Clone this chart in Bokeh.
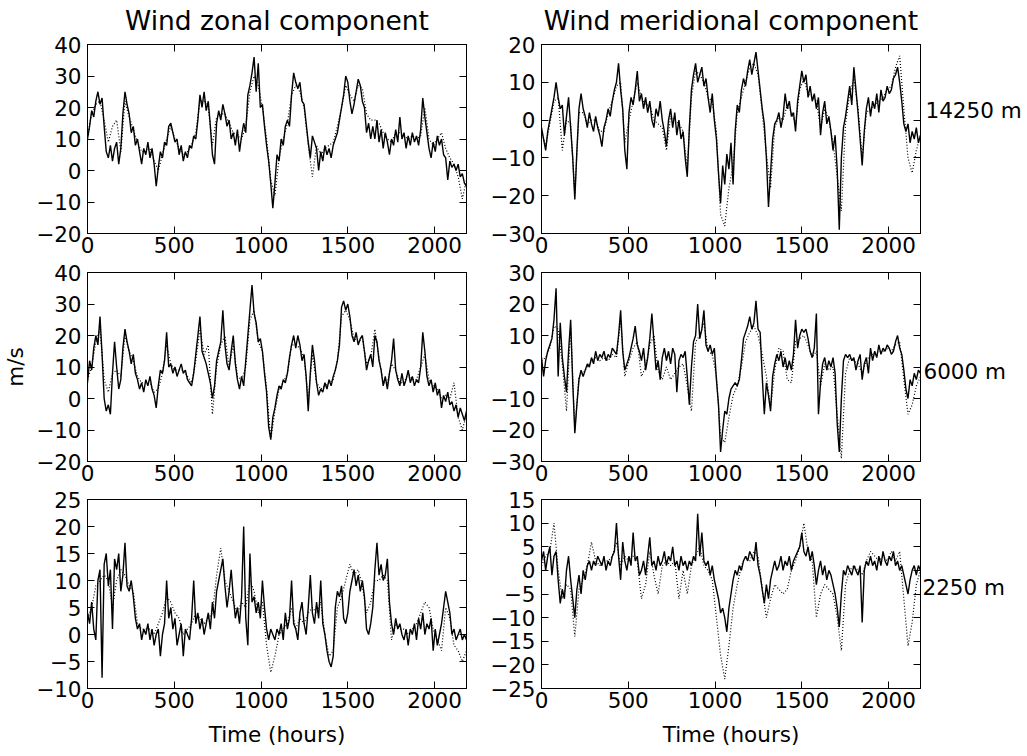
from bokeh.plotting import figure
from bokeh.layouts import column, row
from bokeh.models import Range1d, FixedTicker, LinearAxis
from bokeh.core.properties import value
from bokeh.embed import file_html
from bokeh.resources import INLINE

# ---------------- data ----------------
T_END = 2184
hours_solid = list(range(0, T_END + 1, 12))   # 12-hourly readings of the solid trace
hours_dotted = list(range(0, T_END + 1, 24))  # daily readings of the dotted trace

x_ticks = [0, 500, 1000, 1500, 2000]

col_titles = ["Wind zonal component", "Wind meridional component"]
level_labels = ["14250 m", "6000 m", "2250 m"]

# zonal component, 14250 m
zonal_14250_solid = [
    10, 14, 19, 17, 22, 25, 21, 23, 14, 6,
    4, 8, 3, 7, 9, 2, 7, 18, 25, 21,
    18, 12, 14, 8, 10, 6, 2, 7, 5, 9,
    4, 7, 2, -5, 1, 6, 4, 9, 8, 14,
    15, 12, 9, 10, 5, 8, 3, 6, 4, 8,
    7, 11, 10, 16, 24, 20, 25, 19, 22, 14,
    5, 2, 15, 19, 16, 21, 18, 14, 16, 10,
    12, 8, 13, 6, 11, 15, 12, 24, 27, 31,
    36, 25, 34, 20, 21, 14, 8, 3, -4, -12,
    -4, 5, 3, 10, 8, 14, 16, 14, 24, 31,
    28, 26, 28, 22, 21, 15, 9, 4, 11, 9,
    7, 0, 6, 3, 8, 5, 7, 4, 8, 10,
    12, 16, 20, 24, 30, 28, 22, 18, 21, 25,
    29, 27, 22, 20, 12, 15, 10, 14, 10, 16,
    9, 13, 7, 12, 9, 5, 10, 8, 13, 9,
    17, 10, 12, 7, 11, 8, 12, 9, 11, 8,
    13, 23, 17, 12, 7, 4, 9, 6, 11, 8,
    10, 5, 4, -3, 3, 1, 2, 0, 2, -2,
    -1, -4, -5]
zonal_14250_dotted = [
    11, 18, 21, 22, 16, 9, 14, 16, 6, 22,
    17, 13, 9, 6, 6, 7, 3, 0, 5, 10,
    14, 10, 7, 5, 6, 8, 12, 22, 22, 20,
    8, 17, 18, 18, 15, 12, 11, 10, 14, 25,
    30, 27, 20, 10, -3, -8, 4, 10, 15, 24,
    27, 25, 20, 8, -2, 8, 5, 7, 8, 9,
    14, 20, 27, 24, 22, 27, 26, 18, 16, 16,
    15, 12, 10, 9, 12, 12, 11, 10, 11, 10,
    11, 20, 10, 8, 10, 12, 7, 4, 2, -2,
    -9, -3]

# meridional component, 14250 m
merid_14250_solid = [
    -2, -5, -8, -3, 0, 3, 6, 10, 6, 3,
    4, -4, 1, 6, -2, -10, -21, -8, 3, 7,
    3, 1, -2, 2, -1, -3, 1, -2, -4, -7,
    -2, 0, 3, 1, 5, 8, 10, 15, 8, 3,
    -8, -13, 2, 6, 4, 8, 13, 5, 7, 3,
    6, 2, 5, 0, -2, 3, 1, 5, 0, -3,
    -7, 0, 3, -2, 2, -4, 0, -5, -3, -10,
    -15, -2, 8, 12, 15, 10, 12, 14, 9, 11,
    6, 2, 7, 0, -5, -14, -22, -12, -17, -9,
    -13, -6, -17, -3, 4, 2, 8, 11, 9, 13,
    16, 12, 15, 18, 13, 8, 3, -1, -10, -23,
    -14, -5, -1, 0, 2, -2, 1, 7, 3, 5,
    1, 2, -3, 5, 9, 13, 10, 12, 6, 9,
    5, 7, 3, 6, -4, 2, 5, -1, 1, -3,
    -8, -4, -13, -29, -10, -2, 1, 5, 9, 4,
    14, 8, 2, -5, -12, -3, 3, 6, 1, 5,
    3, 7, 2, 8, 5, 6, 9, 7, 8, 11,
    12, 14, 10, 5, -1, -3, -1, -6, -3, -5,
    -2, -6, -4]
merid_14250_dotted = [
    -3, -7, -1, 5, 6, -8, 0, -1, -20, 2,
    2, -1, 0, 0, -3, -3, 2, 5, 9, 10,
    -6, 0, 5, 10, 6, 4, 4, 0, -1, -2,
    -8, 1, 0, -1, -3, -13, 6, 13, 12, 10,
    6, 5, -3, -25, -28, -18, -12, 2, 6, 10,
    14, 15, 12, 2, -9, -18, -2, 1, 0, 4,
    2, -1, 8, 11, 7, 6, 5, -2, 3, 0,
    -6, -15, -24, -1, 7, 11, 3, -10, 2, 3,
    4, 5, 6, 8, 9, 14, 17, 3, -10, -14,
    -8, -4]

# zonal component, 6000 m
zonal_6000_solid = [
    5, 12, 9, 16, 20, 17, 26, 14, 0, -4,
    -2, -5, 8, 18, 10, 3, 6, 16, 22, 18,
    15, 11, 14, 8, 6, 3, 5, 2, 6, 4,
    7, 3, 1, -3, 4, 9, 8, 12, 21, 10,
    11, 8, 10, 7, 9, 11, 8, 9, 6, 5,
    4, 8, 14, 20, 26, 15, 13, 11, 8, 5,
    0, 4, 12, 15, 18, 28, 17, 11, 9, 15,
    20, 11, 6, 3, 7, 4, 12, 20, 28, 36,
    27, 24, 18, 19, 15, 8, 2, -9, -13, -6,
    -3, 1, 4, 3, 6, 5, 8, 13, 17, 20,
    16, 20, 17, 12, 14, 7, -4, 8, 17, 12,
    5, 1, 3, 2, 5, 3, 6, 4, 7, 9,
    12, 17, 29, 31, 28, 30, 26, 20, 18, 21,
    17, 19, 20, 15, 9, 12, 14, 10, 20, 18,
    12, 9, 4, 7, 3, 8, 12, 19, 9, 6,
    4, 8, 4, 6, 9, 5, 7, 4, 6, 5,
    10, 21, 15, 7, 4, 6, 2, 5, 1, 3,
    -3, 1, -1, 2, -2, -1, -4, -2, -6, -3,
    -5, -7, -4]
zonal_6000_dotted = [
    6, 10, 18, 22, 6, 2, 8, 9, 7, 20,
    15, 12, 7, 5, 5, 5, 2, 3, 8, 17,
    11, 9, 9, 9, 7, 5, 12, 22, 14, 17,
    -5, 10, 17, 20, 10, 17, 7, 6, 10, 25,
    28, 18, 15, 3, -13, -4, 3, 5, 8, 17,
    17, 16, 13, 0, 14, 5, 3, 4, 5, 6,
    12, 26, 28, 25, 19, 18, 19, 11, 13, 22,
    13, 5, 5, 11, 9, 5, 5, 8, 6, 6,
    10, 14, 6, 4, 3, 0, 1, 0, 5, -6,
    -10, -5]

# meridional component, 6000 m
merid_6000_solid = [
    3, -3, 2, 5, 7, 9, 15, 25, -3, 14,
    3, -3, -8, 5, 15, -5, -21, -12, -4, -1,
    -3, -1, 1, 0, 3, 1, 5, 2, 4, 3,
    5, 2, 4, 3, 6, 5, 4, 10, 18, 5,
    -1, 1, 3, 6, 9, 13, 7, 5, 2, 6,
    -1, 3, 9, 17, 8, -1, 2, -4, 3, 6,
    2, 5, 1, 6, 4, -8, 2, 4, 3, 5,
    -3, -12, 0, 8, 10, 20, 9, 12, 18, 7,
    5, 7, 4, 6, -4, -12, -27, -20, -14, -15,
    -10, -7, -6, -5, -6, -4, 2, 9, 11, 13,
    16, 12, 14, 21, 12, 11, -3, -15, -5, -9,
    -14, -3, 1, 4, 2, 5, 0, 3, -1, 2,
    -1, 4, 15, 6, 10, 12, 11, 12, 9, 5,
    3, 6, 17, -15, -5, 1, 3, -1, 2, 0,
    3, -2, -18, -27, -10, 2, 4, 3, 4, 2,
    3, -1, 2, 4, -4, 1, 3, -2, 6, 2,
    5, 3, 7, 4, 6, 5, 7, 6, 4, 5,
    8, 10, 6, 4, -1, -7, -10, -4, -6, -2,
    -4, -1, -2]
merid_6000_dotted = [
    2, 3, 6, 13, 12, 1, -14, 13, -20, -3,
    -2, 0, 2, 3, 2, 3, 2, 4, 3, 15,
    -3, 2, 6, 8, -3, 0, 7, 10, -1, -4,
    0, -4, -2, 0, 1, -6, -14, 8, 10, 14,
    5, 4, -3, -22, -24, -16, -9, -6, 0, 8,
    11, 13, 10, 4, -3, -13, -1, 6, 5, -4,
    -5, 8, 9, 10, 7, 3, 5, -6, 1, -1,
    0, -15, -29, -2, 3, 2, 1, -2, 2, 4,
    4, 5, 5, 6, 5, 7, 8, -4, -15, -12,
    -6, -3]

# zonal component, 2250 m
zonal_2250_solid = [
    4, 2, 6, 1, -1, 10, 12, -8, 13, 15,
    9, 12, 1, 14, 12, 15, 8, 11, 17, 9,
    8, 10, 7, 3, 1, 2, -1, 1, 0, 2,
    -1, 1, -2, 0, 1, -4, 0, 2, 10, 3,
    5, 1, 3, -2, 0, 2, -4, 1, 0, -1,
    3, 10, 2, 4, 1, 3, 0, 2, 4, 1,
    6, 3, 8, 10, 12, 14, 9, 5, 8, 12,
    7, 3, 5, 2, 7, 20, 3, -2, 15, 6,
    7, 4, 6, 3, 10, 5, 1, -1, 1, 0,
    -1, 1, 0, 2, -1, 4, 1, 3, 10, 2,
    1, -1, 4, 6, 2, 0, 5, 11, 4, 2,
    6, 3, 10, 2, 0, -3, -5, -6, -4, 5,
    8, 7, 9, 3, 2, 4, 8, 10, 12, 9,
    11, 8, 10, 7, 1, 0, 2, 5, 12, 17,
    11, 13, 10, 11, 14, 6, 2, 0, 3, 1,
    2, 0, -1, 1, -2, 1, 0, 2, -1, 3,
    1, 4, 0, 2, 1, 3, -3, 1, -2, 0,
    2, 5, 8, 6, 4, 0, 1, -1, 0, 1,
    -1, 0, -1]
zonal_2250_dotted = [
    3, 5, 9, 10, 11, 10, 5, 10, 12, 11,
    9, 8, 2, 1, 1, 1, 0, 2, 4, 7,
    6, 4, 3, 0, 1, 2, 4, 3, 2, 3,
    4, 11, 16, 10, 8, 6, 4, 6, 5, 10,
    8, 4, 6, -2, -7, -4, 0, 1, 2, 5,
    1, 3, 2, 4, 5, 4, 6, 0, -4, -3,
    5, 7, 10, 13, 11, 12, 9, 4, 6, 10,
    10, 11, 10, -1, 2, 1, 1, 0, 1, 2,
    4, 6, 5, 1, -1, -3, 5, 3, -2, -3,
    -5, -3]

# meridional component, 2250 m
merid_2250_solid = [
    2, 4, 0, 3, 5, -1, 3, 4, -2, -7,
    -4, -6, 0, 3, -2, -6, -10, -4, -1, -5,
    0, -2, 1, 2, 0, 2, 1, 3, 2, 1,
    3, 0, 2, 1, 3, 4, 10, 3, -2, 6,
    2, 0, 3, 1, 8, 2, 3, -1, 0, 2,
    -1, 3, 7, 1, 2, 0, 3, 1, 2, 4,
    1, 3, 2, 5, 1, 2, 0, 3, 1, 2,
    0, 2, 1, 3, 2, 12, 3, 8, 2, 1,
    2, -1, 1, -2, -4, -6, -9, -8, -10, -13,
    -8, -5, -2, 0, -1, 1, 0, 2, 3, 2,
    4, 3, 2, 6, 1, -1, -4, -7, -3, -6,
    -2, 0, 2, 0, 1, 3, 0, 2, 1, 3,
    0, 2, 3, 4, 5, 8, 4, 3, 5, 2,
    4, 1, -3, 0, 2, -1, 1, -2, 0, -1,
    -3, -5, -8, -12, -5, 0, -1, 1, 0, -1,
    1, 0, -1, 1, -11, 0, 2, 1, 3, 1,
    2, 0, 3, 1, 4, 2, 1, 3, 2, 4,
    1, 2, 0, 1, -1, -3, -5, -2, 0, 1,
    -1, 1, 0]
merid_2250_dotted = [
    1, 3, 4, 10, 0, -6, -3, -4, -14, -4,
    -2, 1, 6, 2, 1, 2, 2, 3, 6, 1,
    3, 2, 3, 2, -6, -3, 4, -1, -5, 1,
    2, 1, 2, -6, 0, -5, 1, 3, 5, 1,
    0, -2, -10, -18, -23, -16, -8, -3, 1, 3,
    2, 4, 3, -4, -10, -6, -3, -4, -5, -4,
    0, 2, 5, 10, 4, 2, -10, -5, -3, -4,
    -5, -10, -17, -3, 0, 1, 0, -1, 2, 4,
    3, 2, 3, 2, 4, 2, 4, -6, -16, -11,
    -3, 0]

y_ranges = [[(-20, 40), (-30, 20)], [(-20, 40), (-30, 30)], [(-10, 25), (-25, 15)]]
y_ticks = [[[-20, -10, 0, 10, 20, 30, 40], [-30, -20, -10, 0, 10, 20]],
           [[-20, -10, 0, 10, 20, 30, 40], [-30, -20, -10, 0, 10, 20, 30]],
           [[-10, -5, 0, 5, 10, 15, 20, 25], [-25, -20, -15, -10, -5, 0, 5, 10, 15]]]
series = [[(zonal_14250_solid, zonal_14250_dotted), (merid_14250_solid, merid_14250_dotted)],
          [(zonal_6000_solid, zonal_6000_dotted), (merid_6000_solid, merid_6000_dotted)],
          [(zonal_2250_solid, zonal_2250_dotted), (merid_2250_solid, merid_2250_dotted)]]
# level label placement (data y on the meridional scale, x offset in px)
level_label_y = [2.5, -1.4, -3.7]
level_label_dx = [3, 1, 0]

for r in series:
    for s, d in r:
        assert len(s) == len(hours_solid), len(s)
        assert len(d) == len(hours_dotted), len(d)

FONT = "DejaVu Sans"
TICK_FS = "21.5px"


def minus(v):
    return str(v).replace("-", "\u2212")


def style_axis(ax, ticks, labels):
    ax.ticker = FixedTicker(ticks=ticks)
    ax.major_tick_in = 7
    ax.major_tick_out = 0
    ax.minor_tick_line_color = None
    ax.axis_line_color = "black"
    ax.axis_line_width = 1
    ax.major_tick_line_color = "black"
    ax.major_tick_line_width = 1
    ax.major_label_text_font = FONT
    ax.major_label_text_color = "black"
    ax.axis_label_text_font = FONT
    ax.axis_label_text_font_size = TICK_FS
    ax.axis_label_text_font_style = "normal"
    ax.axis_label_text_color = "black"
    if labels:
        ax.major_label_text_font_size = TICK_FS
        ax.major_label_overrides = {t: minus(t) for t in ticks}
    else:
        ax.major_label_text_font_size = "0px"
        ax.major_label_standoff = 0


FRAME_W, FRAME_H = 379, 189
borders_top = [44, 10, 10]
borders_bottom = [29, 28, 68]
borders_left = [87, 60]
borders_right = [15, 2]
LABEL_W = 105

rows = []
for ri in range(3):
    figs = []
    for ci in range(2):
        ylo, yhi = y_ranges[ri][ci]
        p = figure(frame_width=FRAME_W, frame_height=FRAME_H,
                   x_range=Range1d(0, T_END), y_range=Range1d(ylo, yhi),
                   output_backend="svg", toolbar_location=None, title=None,
                   min_border_left=borders_left[ci], min_border_right=borders_right[ci],
                   min_border_top=borders_top[ri], min_border_bottom=borders_bottom[ri])
        p.background_fill_color = "white"
        p.border_fill_color = "white"
        p.outline_line_color = "black"
        p.outline_line_width = 1
        p.outline_line_alpha = 1
        p.xgrid.visible = False
        p.ygrid.visible = False

        xa = p.below[0]
        ya = p.left[0]
        style_axis(xa, x_ticks, True)
        xa.major_label_standoff = 3
        style_axis(ya, y_ticks[ri][ci], True)
        ya.major_label_standoff = 6
        ax_top = LinearAxis()
        style_axis(ax_top, x_ticks, False)
        if ri == 0:
            # column heading carried by the top axis
            ax_top.axis_label = col_titles[ci]
            ax_top.axis_label_text_font_size = "26.5px"
            ax_top.axis_label_standoff = 9
        p.add_layout(ax_top, "above")
        ax_right = LinearAxis()
        style_axis(ax_right, y_ticks[ri][ci], False)
        p.add_layout(ax_right, "right")

        if ri == 2:
            xa.axis_label = "Time (hours)"
            xa.axis_label_standoff = 11
        if ri == 1 and ci == 0:
            ya.axis_label = "m/s"
            ya.axis_label_standoff = 5

        solid, dotted = series[ri][ci]
        p.line(hours_dotted, dotted, line_color="black", line_width=1.2, line_dash="1 2")
        p.line(hours_solid, solid, line_color="black", line_width=1.4)
        figs.append(p)

    # narrow strip to the right carrying the level label
    ylo, yhi = y_ranges[ri][1]
    q = figure(frame_width=LABEL_W, frame_height=FRAME_H,
               x_range=Range1d(0, 1), y_range=Range1d(ylo, yhi),
               output_backend="svg", toolbar_location=None, title=None,
               x_axis_type=None, y_axis_type=None,
               min_border_left=0, min_border_right=0,
               min_border_top=borders_top[ri], min_border_bottom=borders_bottom[ri])
    q.outline_line_color = None
    q.background_fill_color = "white"
    q.border_fill_color = "white"
    q.text(x=[0], y=[level_label_y[ri]], text=[level_labels[ri]],
           x_offset=level_label_dx[ri], text_font=value(FONT),
           text_font_size=value(TICK_FS), text_color="black",
           text_align="left", text_baseline="middle")
    figs.append(q)
    rows.append(row(*figs, spacing=0))

layout = column(*rows, spacing=0)
open("out.html", "w").write(file_html(layout, INLINE))
